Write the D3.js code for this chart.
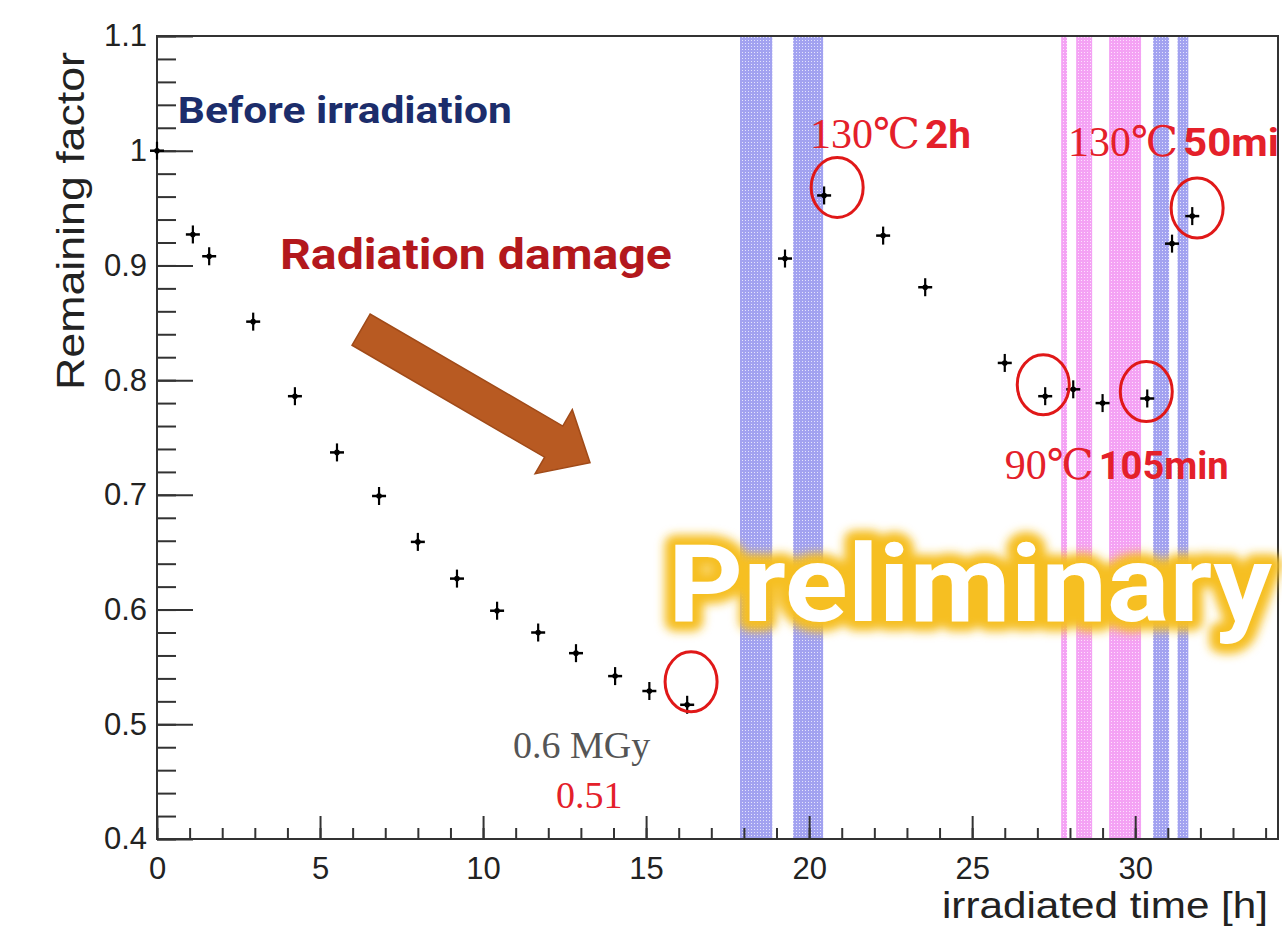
<!DOCTYPE html>
<html>
<head>
<meta charset="utf-8">
<script src="https://cdn.jsdelivr.net/npm/d3@7"></script>
<style>
  body { margin: 0; background: #fff; }
</style>
</head>
<body>
<div id="chart"></div>
<script>
// Data
const timeH = [0, 1.1, 1.6, 2.95, 4.23, 5.52, 6.81, 8.0, 9.2, 10.43, 11.69, 12.85, 14.05, 15.1, 16.26,
  19.26, 20.46, 22.27, 23.56, 26.0, 27.24, 28.1, 29.0, 30.37, 31.13, 31.75];
const factor = [1.0, 0.927, 0.908, 0.851, 0.786, 0.737, 0.699, 0.659, 0.627, 0.599, 0.580, 0.562, 0.542, 0.529, 0.517,
  0.906, 0.961, 0.926, 0.881, 0.815, 0.786, 0.792, 0.780, 0.784, 0.919, 0.943];

// Annealing periods (blue = 130 C, pink = 90 C)
const bandStart = [17.88, 19.51, 27.73, 28.19, 29.2, 30.55, 31.3];
const bandEnd = [18.87, 20.43, 27.91, 28.68, 30.18, 31.04, 31.63];
const bandKind = ["blue", "blue", "pink", "pink", "pink", "blue", "blue"];

const xTicks = [0, 5, 10, 15, 20, 25, 30];
const xTickLabels = ["0", "5", "10", "15", "20", "25", "30"];
const yTicks = [0.4, 0.5, 0.6, 0.7, 0.8, 0.9, 1.0, 1.1];
const yTickLabels = ["0.4", "0.5", "0.6", "0.7", "0.8", "0.9", "1", "1.1"];

// red circles around highlighted points (centre in data units)
const circleT = [16.38, 20.86, 27.18, 30.34, 31.9];
const circleV = [0.537, 0.968, 0.796, 0.790, 0.95];

const W = 1282, H = 934;
const frame = { left: 157, right: 1278, top: 36, bottom: 839 };

const x = d3.scaleLinear().domain([0, 34.38]).range([frame.left, frame.right]);
const y = d3.scaleLinear().domain([0.4, 1.1]).range([frame.bottom, frame.top]);

const svg = d3.select("#chart").append("svg")
  .attr("width", W)
  .attr("height", H);

svg.append("rect").attr("width", W).attr("height", H).attr("fill", "#fff");

const defs = svg.append("defs");

// dotted hatch patterns for the bands
function dotPattern(id, bg, dot) {
  const p = defs.append("pattern")
    .attr("id", id)
    .attr("width", 3).attr("height", 3)
    .attr("patternUnits", "userSpaceOnUse");
  p.append("rect").attr("width", 3).attr("height", 3).attr("fill", bg);
  p.append("rect").attr("x", 1).attr("y", 1).attr("width", 1).attr("height", 1).attr("fill", dot);
}
dotPattern("hatchBlue", "#a2a2f0", "#e4e4fd");
dotPattern("hatchPink", "#f4a2f4", "#fde0fd");

const glow = defs.append("filter").attr("id", "glow")
  .attr("x", "-10%").attr("y", "-40%").attr("width", "120%").attr("height", "180%");
glow.append("feGaussianBlur").attr("stdDeviation", 5);

// Bands
svg.append("g")
  .selectAll("rect")
  .data(bandStart)
  .enter()
  .append("rect")
  .attr("x", (d, i) => x(d))
  .attr("width", (d, i) => x(bandEnd[i]) - x(d))
  .attr("y", y(1.1))
  .attr("height", y(0.4) - y(1.1))
  .attr("fill", (d, i) => bandKind[i] === "blue" ? "url(#hatchBlue)" : "url(#hatchPink)");

const sansFont = "'Liberation Sans', Arial, sans-serif";

// Axes (ROOT style, ticks inside the frame)
const xMinor = d3.range(0, 35, 1);
svg.append("g")
  .attr("transform", "translate(0," + frame.bottom + ")")
  .call(d3.axisBottom(x).tickValues(xMinor).tickSize(-11).tickFormat(""))
  .call(g => g.select(".domain").remove());

svg.append("g")
  .attr("transform", "translate(0," + frame.bottom + ")")
  .call(d3.axisBottom(x).tickValues(xTicks).tickSize(-23).tickPadding(14)
    .tickFormat((d, i) => xTickLabels[i]))
  .call(g => g.select(".domain").remove())
  .call(g => g.selectAll("text")
    .attr("font-size", 31)
    .attr("font-family", sansFont)
    .attr("fill", "#222")
    .attr("dy", "0.85em"));

const yMinor = d3.range(0.4, 1.1001, 0.02);
svg.append("g")
  .attr("transform", "translate(" + frame.left + ",0)")
  .call(d3.axisLeft(y).tickValues(yMinor).tickSize(-19).tickFormat(""))
  .call(g => g.select(".domain").remove());

svg.append("g")
  .attr("transform", "translate(" + frame.left + ",0)")
  .call(d3.axisLeft(y).tickValues(yTicks).tickSize(-36).tickPadding(10)
    .tickFormat((d, i) => yTickLabels[i]))
  .call(g => g.select(".domain").remove())
  .call(g => g.selectAll("text")
    .attr("font-size", 31)
    .attr("font-family", sansFont)
    .attr("fill", "#222"));

svg.selectAll(".tick line").attr("stroke", "#333").attr("stroke-width", 2);

// frame
svg.append("rect")
  .attr("x", frame.left).attr("y", frame.top)
  .attr("width", frame.right - frame.left)
  .attr("height", frame.bottom - frame.top)
  .attr("fill", "none")
  .attr("stroke", "#333")
  .attr("stroke-width", 2);

// axis titles
svg.append("text")
  .attr("transform", "translate(" + 84 + "," + 221 + ") rotate(-90)")
  .attr("text-anchor", "middle")
  .attr("font-family", sansFont)
  .attr("font-size", 38)
  .attr("textLength", 338)
  .attr("lengthAdjust", "spacingAndGlyphs")
  .attr("fill", "#222")
  .text("Remaining factor");

svg.append("text")
  .attr("x", 1268).attr("y", 918)
  .attr("text-anchor", "end")
  .attr("font-family", sansFont)
  .attr("font-size", 37)
  .attr("textLength", 326)
  .attr("lengthAdjust", "spacingAndGlyphs")
  .attr("fill", "#222")
  .text("irradiated time [h]");

// Data points with small error crosses
const pts = svg.append("g")
  .selectAll("g")
  .data(timeH)
  .enter()
  .append("g")
  .attr("transform", (d, i) => "translate(" + x(d) + "," + y(factor[i]) + ")");
pts.append("line").attr("x1", -7).attr("x2", 7).attr("stroke", "#000").attr("stroke-width", 2.5);
pts.append("line").attr("y1", -9).attr("y2", 9).attr("stroke", "#000").attr("stroke-width", 2.2);
pts.append("circle").attr("r", 2.8).attr("fill", "#000");

// red circles
svg.append("g")
  .selectAll("ellipse")
  .data(circleT)
  .enter()
  .append("ellipse")
  .attr("cx", d => x(d))
  .attr("cy", (d, i) => y(circleV[i]))
  .attr("rx", 26)
  .attr("ry", 30)
  .attr("fill", "none")
  .attr("stroke", "#e01818")
  .attr("stroke-width", 3);

// Arrow "radiation damage"
const tail = [x(6.26), y(0.844)];
const tip = [x(13.28), y(0.728)];
const dx = tip[0] - tail[0], dy = tip[1] - tail[1];
const len = Math.hypot(dx, dy);
const ux = dx / len, uy = dy / len, nx = -uy, ny = ux;
const shaftW = 18, headW = 37, headL = 42;
const hb = [tip[0] - ux * headL, tip[1] - uy * headL];
const arrowPts = [
  [tail[0] + nx * shaftW, tail[1] + ny * shaftW],
  [hb[0] + nx * shaftW, hb[1] + ny * shaftW],
  [hb[0] + nx * headW, hb[1] + ny * headW],
  tip,
  [hb[0] - nx * headW, hb[1] - ny * headW],
  [hb[0] - nx * shaftW, hb[1] - ny * shaftW],
  [tail[0] - nx * shaftW, tail[1] - ny * shaftW]
];
svg.append("polygon")
  .attr("points", arrowPts.map(p => p.join(",")).join(" "))
  .attr("fill", "#b85a22")
  .attr("stroke", "#a04a18")
  .attr("stroke-width", 1.5);

// Annotations
const boldFont = "Roboto, 'DejaVu Sans', sans-serif";
const serifFont = "'Liberation Serif', 'DejaVu Serif', 'Noto Sans CJK JP', serif";

svg.append("text")
  .attr("x", x(0.64)).attr("y", y(1.024))
  .attr("font-family", boldFont)
  .attr("font-weight", 700)
  .attr("font-size", 36)
  .attr("textLength", 334)
  .attr("lengthAdjust", "spacingAndGlyphs")
  .attr("fill", "#1c2d6b")
  .text("Before irradiation");

svg.append("text")
  .attr("x", x(3.77)).attr("y", y(0.897))
  .attr("font-family", boldFont)
  .attr("font-weight", 700)
  .attr("font-size", 42)
  .attr("textLength", 392)
  .attr("lengthAdjust", "spacingAndGlyphs")
  .attr("fill", "#b3181c")
  .text("Radiation damage");

function heatLabel(t, v, temp, dur, durLen) {
  const tx = svg.append("text")
    .attr("x", x(t)).attr("y", y(v))
    .attr("fill", "#e4202a");
  tx.append("tspan")
    .attr("font-family", serifFont)
    .attr("font-size", 42)
    .text(temp);
  tx.append("tspan")
    .attr("dx", 5)
    .attr("font-family", boldFont)
    .attr("font-weight", 700)
    .attr("font-size", 38)
    .attr("textLength", durLen)
    .attr("lengthAdjust", "spacingAndGlyphs")
    .text(dur);
}
heatLabel(20.03, 1.002, "130\u2103", "2h", 46);
heatLabel(27.94, 0.995, "130\u2103", "50mi", 96);
heatLabel(26.0, 0.714, "90\u2103", "105min", 130);

svg.append("text")
  .attr("x", x(10.92)).attr("y", y(0.471))
  .attr("font-family", serifFont)
  .attr("font-size", 38)
  .attr("fill", "#555")
  .text("0.6 MGy");

svg.append("text")
  .attr("x", x(12.24)).attr("y", y(0.427))
  .attr("font-family", serifFont)
  .attr("font-size", 38)
  .attr("fill", "#e4202a")
  .text("0.51");

// Preliminary watermark
const prelim = svg.append("g");
prelim.append("text")
  .attr("x", x(15.67)).attr("y", y(0.59))
  .attr("font-family", boldFont)
  .attr("font-weight", 700)
  .attr("font-size", 108)
  .attr("textLength", 604)
  .attr("lengthAdjust", "spacingAndGlyphs")
  .attr("fill", "#f6bf24")
  .attr("stroke", "#f6bf24")
  .attr("stroke-width", 20)
  .attr("stroke-linejoin", "round")
  .attr("filter", "url(#glow)")
  .text("Preliminary");
prelim.append("text")
  .attr("x", x(15.67)).attr("y", y(0.59))
  .attr("font-family", boldFont)
  .attr("font-weight", 700)
  .attr("font-size", 108)
  .attr("textLength", 604)
  .attr("lengthAdjust", "spacingAndGlyphs")
  .attr("fill", "#fff")
  .text("Preliminary");
</script>
</body>
</html>
